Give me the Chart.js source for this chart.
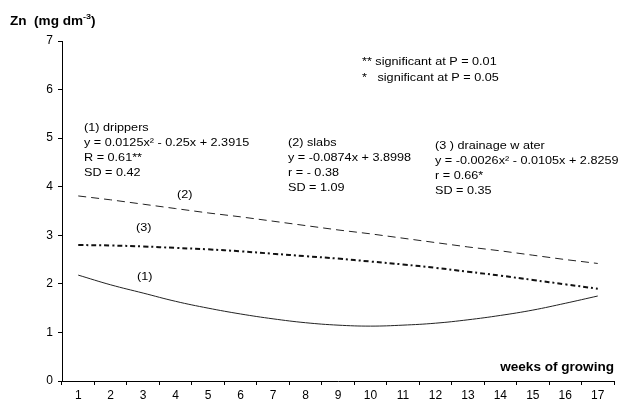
<!DOCTYPE html>
<html>
<head>
<meta charset="utf-8">
<script src="https://cdn.jsdelivr.net/npm/chart.js@4/dist/chart.umd.min.js"></script>
<style>
  html, body { margin: 0; padding: 0; background: #fff; }
  canvas { display: block; }
</style>
</head>
<body>
<canvas id="chart" width="622" height="401"></canvas>
<script>
// Weeks of growing (x categories)
const weeks = [1, 2, 3, 4, 5, 6, 7, 8, 9, 10, 11, 12, 13, 14, 15, 16, 17];
const weekLabels = weeks.map(String);

// Zn concentration, mg dm-3
const drippers = [2.18, 1.98, 1.81, 1.64, 1.50, 1.38, 1.28, 1.20, 1.15, 1.13, 1.15, 1.19, 1.26, 1.35, 1.46, 1.60, 1.75];
const slabs    = [3.81, 3.73, 3.64, 3.55, 3.46, 3.38, 3.29, 3.20, 3.11, 3.03, 2.94, 2.85, 2.76, 2.68, 2.59, 2.50, 2.42];
const drainage = [2.80, 2.79, 2.77, 2.74, 2.71, 2.67, 2.62, 2.57, 2.52, 2.46, 2.40, 2.33, 2.25, 2.17, 2.08, 1.99, 1.90];

// Y axis range
const yMin = 0;
const yMax = 7;

const FONT = '"Liberation Sans", Arial, sans-serif';

function toPoints(values) {
  return weeks.map((w, i) => ({ x: w, y: values[i] }));
}

// Text drawn slightly widened, as in the printed figure
function wideText(ctx, text, x, y, sx) {
  ctx.save();
  ctx.translate(x, y);
  ctx.scale(sx, 1);
  ctx.fillText(text, 0, 0);
  ctx.restore();
  return ctx.measureText(text).width * sx;
}

// Regression equations and curve labels drawn as free text
const notesPlugin = {
  id: 'notes',
  afterDraw(chart) {
    const ctx = chart.ctx;
    ctx.save();
    ctx.fillStyle = '#000';
    ctx.textBaseline = 'middle';
    ctx.textAlign = 'left';

    // Axis titles
    const sxBold = 1.13;
    ctx.font = 'bold 12px ' + FONT;
    let x = 10;
    x += wideText(ctx, 'Zn  (mg dm', x, 22, sxBold);
    ctx.font = 'bold 8px ' + FONT;
    x += wideText(ctx, '-3', x, 17, sxBold);
    ctx.font = 'bold 12px ' + FONT;
    wideText(ctx, ')', x, 22, sxBold);

    const wk = 'weeks of growing';
    const wkW = ctx.measureText(wk).width * sxBold;
    wideText(ctx, wk, 614 - wkW, 368, sxBold);

    ctx.font = '11.5px ' + FONT;
    const sx = 1.1;
    const lines = [
      ['** significant at P = 0.01', 362, 62],
      ['*   significant at P = 0.05', 362, 78],
      ['(1) drippers', 84, 128],
      ['y = 0.0125x\u00B2 - 0.25x + 2.3915', 84, 143],
      ['R = 0.61**', 84, 158],
      ['SD = 0.42', 84, 173],
      ['(2) slabs', 288, 143],
      ['y = -0.0874x + 3.8998', 288, 158],
      ['r = - 0.38', 288, 173],
      ['SD = 1.09', 288, 188],
      ['(3 ) drainage w ater', 435, 146],
      ['y = -0.0026x\u00B2 - 0.0105x + 2.8259', 435, 161],
      ['r = 0.66*', 435, 176],
      ['SD = 0.35', 435, 191],
      ['(2)', 177, 195],
      ['(3)', 136, 228],
      ['(1)', 137, 277]
    ];
    lines.forEach(([t, lx, ly]) => wideText(ctx, t, lx, ly, sx));
    ctx.restore();
  }
};

new Chart(document.getElementById('chart'), {
  type: 'line',
  data: {
    labels: weekLabels,
    datasets: [
      {
        label: '(1) drippers',
        data: toPoints(drippers),
        xAxisID: 'xl',
        borderColor: '#222',
        borderWidth: 1,
        pointRadius: 0,
        tension: 0.4,
        fill: false
      },
      {
        label: '(2) slabs',
        data: toPoints(slabs),
        xAxisID: 'xl',
        borderColor: '#222',
        borderWidth: 1,
        borderDash: [8, 5],
        pointRadius: 0,
        tension: 0,
        fill: false
      },
      {
        label: '(3) drainage water',
        data: toPoints(drainage),
        xAxisID: 'xl',
        borderColor: '#111',
        borderWidth: 2,
        borderDash: [5, 3, 2, 3],
        pointRadius: 0,
        tension: 0.4,
        fill: false
      }
    ]
  },
  options: {
    responsive: false,
    animation: false,
    devicePixelRatio: 1,
    layout: { padding: { top: 41, right: 8, left: 0, bottom: 0 } },
    plugins: {
      legend: { display: false },
      tooltip: { enabled: false }
    },
    scales: {
      x: {
        type: 'category',
        offset: true,
        grid: {
          offset: true,
          drawOnChartArea: false,
          drawTicks: true,
          tickLength: 4,
          color: '#000'
        },
        border: { display: true, color: '#000', width: 1 },
        ticks: {
          color: '#000',
          font: { family: FONT, size: 12 },
          padding: 3,
          maxRotation: 0,
          autoSkip: false
        },
        afterFit(scale) { scale.height = 20; }
      },
      xl: {
        type: 'linear',
        display: false,
        min: 0.5,
        max: 17.5
      },
      y: {
        min: yMin,
        max: yMax,
        grid: {
          drawOnChartArea: false,
          drawTicks: true,
          tickLength: 4,
          color: '#000'
        },
        border: { display: true, color: '#000', width: 1 },
        ticks: {
          stepSize: 1,
          color: '#000',
          font: { family: FONT, size: 12 },
          padding: 5
        },
        afterFit(scale) { scale.width = 62; }
      }
    }
  },
  plugins: [notesPlugin]
});
</script>
</body>
</html>
